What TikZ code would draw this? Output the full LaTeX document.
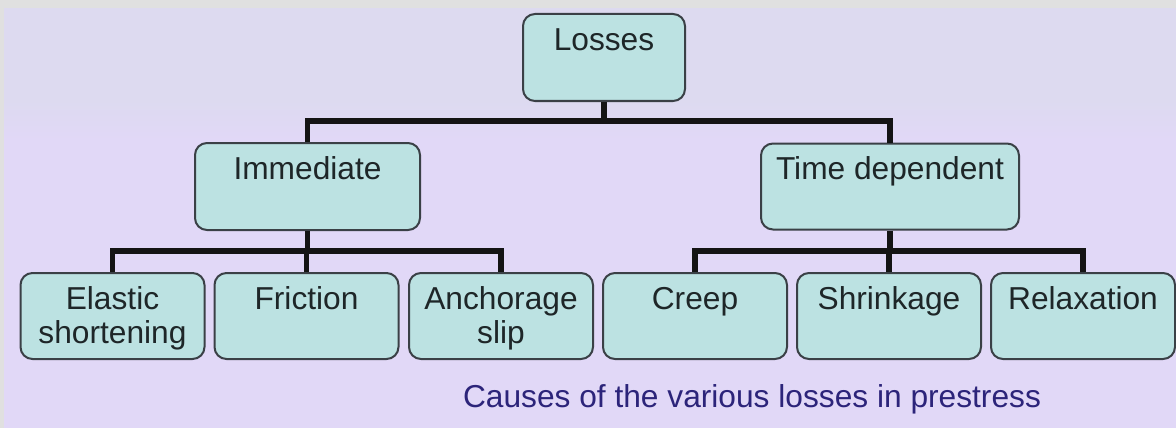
\documentclass[tikz,border=0pt]{standalone}
\usepackage{fontspec}
\setmainfont{Liberation Sans}
\definecolor{framegray}{RGB}{224,224,224}
\definecolor{panel}{RGB}{225,216,247}
\definecolor{paneltop}{RGB}{221,218,240}
\definecolor{boxfill}{RGB}{188,226,226}
\definecolor{boxline}{RGB}{58,64,70}
\definecolor{boxtext}{RGB}{30,38,40}
\definecolor{captext}{RGB}{44,36,122}
\begin{document}
\begin{tikzpicture}[x=1pt,y=-1pt,
  box/.style={draw=boxline, fill=boxfill, line width=2pt, rounded corners=12pt,
    inner xsep=4pt, inner ysep=12pt, text height=24pt, text depth=38pt,
    align=center, font=\fontsize{31.7}{34}\selectfont, text=boxtext},
  twoline/.style={text height=58pt, text depth=4pt},
  conn/.style={line width=5.5pt, draw=black!92, line join=miter},
  caption/.style={font=\fontsize{31.7}{34}\selectfont, text=captext, anchor=base}
]
% frame and background panel
\useasboundingbox (0,0) rectangle (1176,428);
\fill[framegray] (0,0) rectangle (1176,428);
\fill[panel] (4,8) rectangle (1176,428);
\fill[paneltop] (4,8) rectangle (1176,100);
\shade[top color=paneltop, bottom color=panel] (4,100) rectangle (1176,140);

% bus lines
\coordinate (bus1) at (0,121);
\coordinate (bus2) at (0,251);

% nodes
\node[box, minimum width=162pt, minimum height=87pt] (loss) at (604,57.5) {Losses};
\node[box, minimum width=225pt, minimum height=87pt] (imm)  at (307.5,186.5) {Immediate};
\node[box, minimum width=258pt, minimum height=86pt] (time) at (890,186.5) {Time dependent};

\node[box, twoline, minimum width=184pt, minimum height=86pt] (elas) at (112.5,316) {Elastic\\shortening};
\node[box, minimum width=184pt, minimum height=86pt] (fric) at (306.5,316) {Friction};
\node[box, twoline, minimum width=184pt, minimum height=86pt] (anch) at (501,316) {Anchorage\\slip};
\node[box, minimum width=184pt, minimum height=86pt] (creep) at (695,316) {Creep};
\node[box, minimum width=184pt, minimum height=86pt] (shrk) at (889,316) {Shrinkage};
\node[box, minimum width=184pt, minimum height=86pt] (relx) at (1083,316) {Relaxation};

% connectors
\draw[conn] (loss.south) -- (loss.south |- bus1);
\draw[conn] (imm.north) -- (imm.north |- bus1) -- (time.north |- bus1) -- (time.north);
\draw[conn] (imm.south) -- (imm.south |- bus2);
\draw[conn] (elas.north) -- (elas.north |- bus2) -- (anch.north |- bus2) -- (anch.north);
\draw[conn] (fric.north) -- (fric.north |- bus2);
\draw[conn] (time.south) -- (time.south |- bus2);
\draw[conn] (creep.north) -- (creep.north |- bus2) -- (relx.north |- bus2) -- (relx.north);
\draw[conn] (shrk.north) -- (shrk.north |- bus2);

\node[caption] (cap) at (752,407) {Causes of the various losses in prestress};
\end{tikzpicture}
\end{document}
